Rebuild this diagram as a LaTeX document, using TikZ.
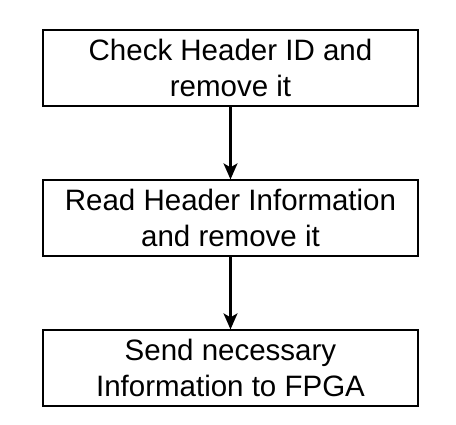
\documentclass[tikz,border=0pt]{standalone}
\usepackage{fontspec}
\setmainfont{Liberation Sans}
\usetikzlibrary{positioning, arrows.meta}

\begin{document}
\begin{tikzpicture}[
      x=1pt, y=1pt,
      node distance=150pt,
      on grid,
      block/.style={draw, line width=1.3pt, minimum width=375pt, minimum height=76pt,
        align=center, font=\fontsize{29.5}{36}\selectfont},
      flow/.style={draw, line width=2.2pt, -{Stealth[length=16pt, width=14pt, inset=4pt]}},
    ]
    \useasboundingbox (0,0) rectangle (456,-424);

    \node[block]              (check) at (230.5,-68) {Check Header ID and\\remove it};
    \node[block, below=of check] (read) {Read Header Information\\and remove it};
    \node[block, below=of read]  (send) {Send necessary\\Information to FPGA};

    \path[flow] (check) -- (read);
    \path[flow] (read) -- (send);

  \end{tikzpicture}
\end{document}
